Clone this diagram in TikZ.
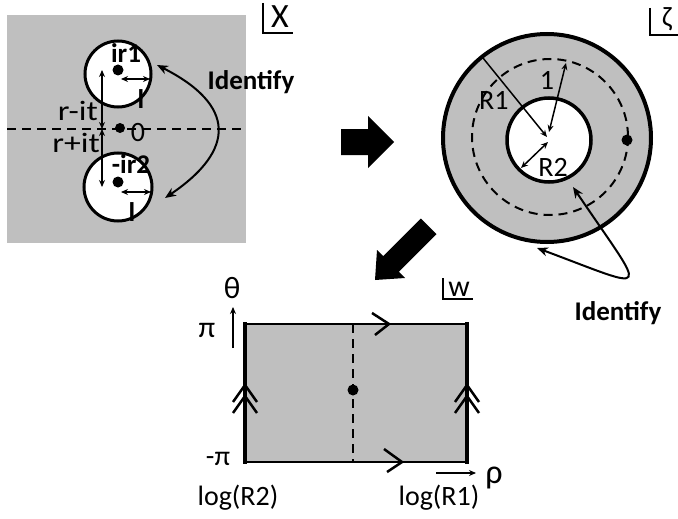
\documentclass[tikz,border=0pt]{standalone}
\usepackage{fontspec}
\setmainfont{Carlito}
\usetikzlibrary{arrows.meta}
\definecolor{grayfill}{HTML}{BFBFBF}
\begin{document}
\begin{tikzpicture}[x=1pt,y=-1pt,
  lbl/.style={font=\fontsize{28}{30}\selectfont, inner sep=0pt, anchor=base},
  blbl/.style={font=\fontsize{27}{30}\selectfont\bfseries, inner sep=0pt, anchor=base},
  small/.style={line width=1.5pt, {Stealth[length=7pt,width=6pt]}-{Stealth[length=7pt,width=6pt]}},
  onehead/.style={line width=1.5pt, -{Stealth[length=7pt,width=6pt]}},
  ident/.style={line width=2pt, {Stealth[length=11pt,width=9pt]}-{Stealth[length=11pt,width=9pt]}},
  dot/.style={circle, fill=black, inner sep=0pt, minimum size=11pt},
  hole/.style={circle, draw=black, fill=white, line width=3pt, inner sep=0pt},
  chev/.style={line width=2.5pt},
  dsh/.style={line width=2pt, dash pattern=on 9pt off 6pt},
  bigarrow/.style={fill=black}
]
\useasboundingbox (0,0) rectangle (678,519);

% ===== X plane =====
\fill[grayfill] (7,15) rectangle (246,243);
\draw[dsh] (7,129) -- (246,129);
\node[hole, minimum size=66pt] (c1) at (118,74) {};
\node[hole, minimum size=68pt] (c2) at (118,187) {};
\node[dot] (d1) at (118,70) {};
\node[dot] (d2) at (118,182) {};
\node[dot, minimum size=10pt] (d0) at (120,128) {};
\coordinate (a1s) at (121,79); \coordinate (a1e) at (150,79);
\coordinate (a2s) at (121,192); \coordinate (a2e) at (151,192);
\draw[small] (a1s) -- (a1e);
\draw[small] (a2s) -- (a2e);
\coordinate (v1) at (102,70); \coordinate (v0) at (102,129); \coordinate (v2) at (102,187);
\draw[small] (v1) -- (v0);
\draw[small] (v0) -- (v2);
\node[blbl] (l1) at (141,108) {l};
\node[blbl] (l2) at (132,221) {l};
\node[blbl] (ir1) at (126,63) {ir1};
\node[blbl] (ir2) at (131,173) {-ir2};
\node[lbl] (zero) at (138,142) {0};
\node[lbl, anchor=base east] (rmit) at (98,121) {\scalebox{1.2}[1]{r-it}};
\node[lbl, anchor=base east] (rpit) at (100,152) {\scalebox{1.2}[1]{r+it}};
\node[blbl] (idx) at (251,89) {Identify};
\coordinate (ix1) at (157,65); \coordinate (ix2) at (165,198);
\draw[ident] (ix1) .. controls (236,105) and (236,150) .. (ix2);
\draw[line width=2pt] (263,3) -- (263,33) -- (293,33);
\node[lbl, font=\fontsize{34}{36}\selectfont] (xl) at (280,28) {X};

% ===== big arrows =====
\fill[bigarrow] (341,129) -- (368,129) -- (368,116) -- (394,142) -- (368,168) -- (368,155) -- (341,155) -- cycle;
\fill[bigarrow] (375,280) -- (377,250) -- (383.2,256.2) -- (420.9,218.5) -- (436.5,234.1) -- (398.8,271.8) -- (405,278) -- cycle;

% ===== zeta plane =====
\node[circle, draw=black, fill=grayfill, line width=4pt, inner sep=0pt, minimum size=208pt] (outer) at (547,138) {};
\draw[dsh] (550,137) circle[radius=78];
\node[hole, line width=3.5pt, minimum size=84pt] (inner) at (549,140) {};
\node[dot] (dz) at (627,140) {};
\coordinate (ctr) at (547,137);
\coordinate (r1o) at (483,58);
\draw[onehead] (r1o) -- (ctr);
\coordinate (oc1) at (549,132); \coordinate (oc2) at (566,63);
\draw[small] (oc1) -- (oc2);
\coordinate (rc1) at (548,142); \coordinate (rc2) at (521,168);
\draw[small] (rc1) -- (rc2);
\node[lbl, anchor=base west] (R1) at (479,110) {R1};
\node[lbl] (one) at (547,90) {1};
\node[lbl] (R2) at (553,176) {R2};
\coordinate (iz1) at (573,187); \coordinate (iz2) at (537,248);
\draw[ident] (iz1) .. controls (648,298) and (655,292) .. (iz2);
\node[blbl] (idz) at (618,320) {Identify};
\draw[line width=2pt] (650,8) -- (650,35) -- (678,35);
\node[lbl, anchor=center] (zl) at (667,19) {ζ};

% ===== w plane =====
\fill[grayfill] (245,324) rectangle (467,462);
\draw[line width=2pt] (245,324) -- (467,324);
\draw[line width=2pt] (245,462) -- (467,462);
\draw[line width=4pt] (245,322) -- (245,464);
\draw[line width=4pt] (467,322) -- (467,464);
\draw[dsh] (353,324) -- (353,462);
\node[dot] (dw) at (353,390) {};
\foreach \xx in {245,467}{
  \draw[chev] (\xx-12,402) -- (\xx,385) -- (\xx+12,402);
  \draw[chev] (\xx-12,413) -- (\xx,396) -- (\xx+12,413);
}
\draw[chev] (372,313) -- (389,324) -- (375,335);
\draw[chev] (384,449) -- (402,462) -- (387,472);
\coordinate (th1) at (233,348); \coordinate (th2) at (233,307);
\draw[onehead] (th1) -- (th2);
\node[lbl, font=\fontsize{31}{33}\selectfont] (theta) at (232,298) {θ};
\node[lbl, font=\fontsize{30}{32}\selectfont] (pi) at (207,337) {π};
\node[lbl] (mpi) at (218,465) {-π};
\node[lbl] (lr2) at (238,505) {log(R2)};
\node[lbl] (lr1) at (439,505) {log(R1)};
\coordinate (rh1) at (436,473); \coordinate (rh2) at (476,473);
\draw[onehead] (rh1) -- (rh2);
\node[lbl, font=\fontsize{34}{36}\selectfont] (rho) at (494,483) {ρ};
\draw[line width=2pt] (443,278) -- (443,299) -- (473,299);
\node[lbl, font=\fontsize{30}{32}\selectfont] (wl) at (459,296) {w};
\end{tikzpicture}
\end{document}
